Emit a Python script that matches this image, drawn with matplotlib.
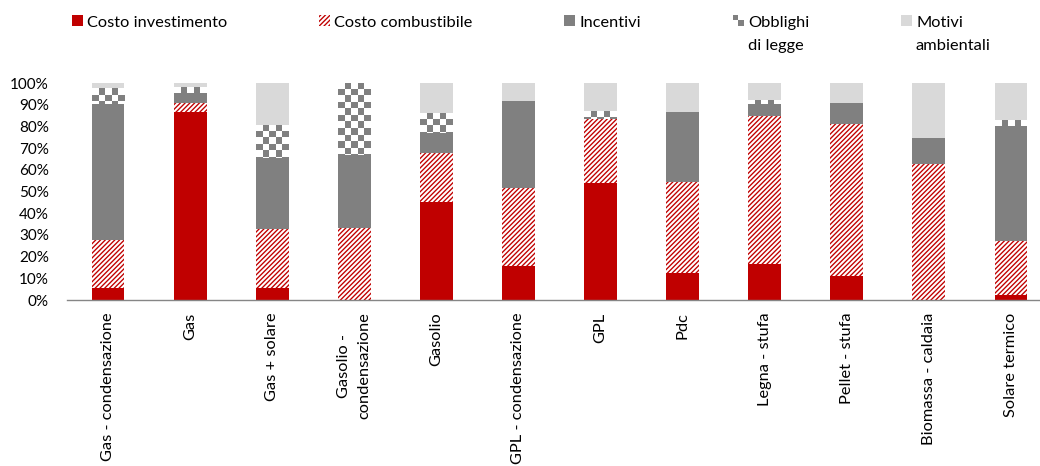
import numpy as np
import matplotlib
matplotlib.use("Agg")
import matplotlib.pyplot as plt
from matplotlib.patches import Rectangle, Patch
from matplotlib.legend_handler import HandlerBase

plt.rcParams["font.family"] = ["Lato", "DejaVu Sans"]
plt.rcParams["hatch.linewidth"] = 1.45

# Impianti di riscaldamento e motivazioni della scelta (% per impianto)
impianti = [
    "Gas - condensazione", "Gas", "Gas + solare", "Gasolio -\ncondensazione",
    "Gasolio", "GPL - condensazione", "GPL", "Pdc", "Legna - stufa",
    "Pellet - stufa", "Biomassa - caldaia", "Solare termico",
]
costo_investimento = [5.7, 86.9, 5.7, 0.0, 45.1, 15.8, 53.8, 12.6, 16.6, 11.1, 0.0, 2.3]
costo_combustibile = [22.0, 4.2, 27.1, 33.3, 22.9, 36.0, 29.6, 41.7, 68.3, 70.1, 62.6, 25.1]
incentivi = [62.7, 4.6, 32.6, 33.4, 8.9, 40.2, 0.0, 32.6, 5.4, 9.6, 12.3, 52.9]
obblighi_legge = [7.3, 2.8, 15.4, 33.3, 9.6, 0.0, 4.0, 0.0, 2.2, 0.0, 0.0, 2.8]
motivi_ambientali = [2.3, 1.5, 19.2, 0.0, 13.5, 8.0, 12.6, 13.1, 7.5, 9.2, 25.1, 16.9]

ROSSO = "#C00000"
GRIGIO = "#808080"
GRIGIO_CHIARO = "#D9D9D9"
TRAMA = "///////"

LEG_FS = 11.8
LEG_LS = 1.8


class SwatchHandler(HandlerBase):
    """Quadratino di legenda allineato alla prima riga del testo."""

    def __init__(self, dy=0.0, checker=False, **kw):
        super().__init__(**kw)
        self.dy = dy
        self.checker = checker

    def create_artists(self, legend, orig_handle, xdescent, ydescent,
                       width, height, fontsize, trans):
        y0 = -ydescent + self.dy
        if self.checker:
            arts = []
            cw, ch = width / 2, height / 2
            for i in range(2):
                for j in range(2):
                    c = GRIGIO if (i + j) % 2 == 1 else "white"
                    arts.append(Rectangle((-xdescent + i * cw, y0 + j * ch), cw, ch,
                                          facecolor=c, edgecolor="none", transform=trans))
            return arts
        p = Rectangle((-xdescent, y0), width, height)
        self.update_prop(p, orig_handle, legend)
        p.set_transform(trans)
        return [p]


fig = plt.figure(figsize=(10.4, 4.66), dpi=100)
ax = fig.add_axes([67 / 1040, 166 / 466, 985 / 1040, 216.7 / 466])

x = np.arange(len(impianti))
w = 0.4
bottom = np.zeros(len(impianti))

ax.bar(x, costo_investimento, w, bottom=bottom, color=ROSSO, linewidth=0)
bottom += costo_investimento
ax.bar(x, costo_combustibile, w, bottom=bottom, facecolor=ROSSO,
       edgecolor="white", hatch=TRAMA, linewidth=0)
bottom += costo_combustibile
ax.bar(x, incentivi, w, bottom=bottom, color=GRIGIO, linewidth=0)
bottom += incentivi
obb = ax.bar(x, obblighi_legge, w, bottom=bottom, color="white", linewidth=0)
bottom += obblighi_legge
ax.bar(x, motivi_ambientali, w, bottom=bottom, color=GRIGIO_CHIARO, linewidth=0)

# trama a scacchi per gli obblighi di legge
cmap = matplotlib.colors.ListedColormap(["white", GRIGIO])
cell_x, cell_y = 0.08, 3.0
for p in obb.patches:
    h = p.get_height()
    if h <= 0:
        continue
    x0, y0, pw = p.get_x(), p.get_y(), p.get_width()
    nc = int(np.ceil(pw / cell_x))
    nr = int(np.ceil(h / cell_y))
    top = y0 + h
    grid = (np.add.outer(np.arange(nr), np.arange(nc)) % 2).astype(float)
    im = ax.imshow(grid, cmap=cmap, vmin=0, vmax=1, interpolation="nearest",
                   extent=(x0, x0 + nc * cell_x, top - nr * cell_y, top),
                   aspect="auto", zorder=3)
    im.set_clip_path(p)

ax.set_xlim(-0.5, 11.5)
ax.set_ylim(0, 100)
ax.set_yticks(np.arange(0, 101, 10))
ax.set_yticklabels([f"{v}%" for v in range(0, 101, 10)])
ax.set_xticks(x)
ax.set_xticklabels(impianti, rotation=90, va="top", ha="center", multialignment="center")
for t in ax.get_xticklabels():
    t.set_linespacing(1.65)
ax.tick_params(axis="y", length=0, pad=13, labelsize=11)
ax.tick_params(axis="x", length=0, pad=9, labelsize=11.8)
for s in ["top", "right", "left"]:
    ax.spines[s].set_visible(False)
ax.spines["bottom"].set_color("#868686")
ax.spines["bottom"].set_linewidth(1.0)

handles = [
    Patch(facecolor=ROSSO, linewidth=0),
    Patch(facecolor=ROSSO, edgecolor="white", hatch=TRAMA, linewidth=0),
    Patch(facecolor=GRIGIO, linewidth=0),
    Patch(facecolor="white", linewidth=0),
    Patch(facecolor=GRIGIO_CHIARO, linewidth=0),
]
labels = ["Costo investimento\n ", "Costo combustibile\n ", "Incentivi\n ",
          "Obblighi\ndi legge", "Motivi\nambientali"]
# tutte le etichette hanno due righe: il quadratino va spostato sulla prima
dy = 10.0
hmap = {h: SwatchHandler(dy=dy) for h in handles}
hmap[handles[3]] = SwatchHandler(dy=dy, checker=True)
leg = fig.legend(handles, labels, loc="upper left", bbox_to_anchor=(72 / 1040, 1 - 16 / 466),
                 ncol=5, frameon=False, fontsize=LEG_FS, borderpad=0, borderaxespad=0,
                 handlelength=0.67, handleheight=0.67, handletextpad=0.25,
                 columnspacing=5.6, labelspacing=0.2, handler_map=hmap)
for t in leg.get_texts():
    t.set_linespacing(LEG_LS)

fig.savefig("out.png", dpi=100)
